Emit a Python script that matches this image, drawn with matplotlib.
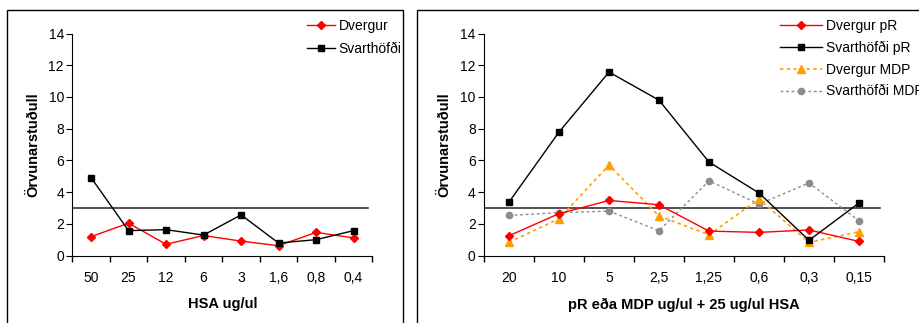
import matplotlib
matplotlib.use('Agg')
import matplotlib.pyplot as plt
from matplotlib.patches import Rectangle

plt.rcParams['font.family'] = ['Liberation Sans', 'DejaVu Sans']

# vinstri mynd
hsa_labels = ['50', '25', '12', '6', '3', '1,6', '0,8', '0,4']
dvergur = [1.2, 2.05, 0.72, 1.27, 0.92, 0.63, 1.47, 1.12]
svarth = [4.92, 1.58, 1.64, 1.3, 2.57, 0.8, 1.01, 1.58]

# haegri mynd
pr_labels = ['20', '10', '5', '2,5', '1,25', '0,6', '0,3', '0,15']
dvergur_pr = [1.26, 2.65, 3.48, 3.21, 1.55, 1.47, 1.62, 0.9]
svarth_pr = [3.38, 7.79, 11.57, 9.8, 5.9, 3.95, 0.97, 3.32]
dvergur_mdp = [0.84, 2.33, 5.71, 2.5, 1.32, 3.57, 0.84, 1.51]
svarth_mdp = [2.54, 2.71, 2.81, 1.57, 4.72, 3.25, 4.58, 2.2]

threshold = 3.0

W, H = 920, 323
fig = plt.figure(figsize=(W / 100, H / 100), dpi=100)

# rammar utan um myndirnar
fig.patches.append(Rectangle((7 / W, -0.1), (403 - 7) / W, (H - 10) / H + 0.1,
                             transform=fig.transFigure, fill=False, lw=1, ec='black'))
fig.patches.append(Rectangle((417 / W, -0.1), 0.6, (H - 10) / H + 0.1,
                             transform=fig.transFigure, fill=False, lw=1, ec='black'))


def setup(ax, labels, xlabel):
    n = len(labels)
    ax.set_xlim(0, n)
    ax.set_ylim(0, 14)
    ax.set_yticks(range(0, 15, 2))
    ax.set_xticks([i + 0.5 for i in range(n)])
    ax.set_xticklabels(labels)
    ax.set_xticks(range(n + 1), minor=True)
    ax.tick_params(axis='x', which='major', length=0, pad=11, labelsize=10)
    ax.tick_params(axis='x', which='minor', length=4, direction='out', width=1)
    ax.tick_params(axis='y', length=4, direction='out', labelsize=10, pad=2)
    for s in ['top', 'right']:
        ax.spines[s].set_visible(False)
    ax.set_xlabel(xlabel, fontsize=10.5, fontweight='bold', labelpad=9)
    ax.set_ylabel('Örvunarstuðull', fontsize=10.5, fontweight='bold', labelpad=6)
    ax.patch.set_alpha(0)


ax1 = fig.add_axes([72.3 / W, 67.3 / H, 300 / W, 222.2 / H])
x = [i + 0.5 for i in range(len(hsa_labels))]
ax1.axhline(threshold, xmin=0, xmax=0.985, color='#333333', lw=1.2)
ax1.plot(x, dvergur, color='red', marker='D', ms=4.5, lw=1, label='Dvergur')
ax1.plot(x, svarth, color='black', marker='s', ms=5, lw=1, label='Svarthöfði')
setup(ax1, hsa_labels, 'HSA ug/ul')
leg1 = ax1.legend(loc='upper left', bbox_to_anchor=(0.74, 1.12), frameon=False,
                  fontsize=10, handlelength=2.0, handletextpad=0.3, labelspacing=0.6)

ax2 = fig.add_axes([484 / W, 67.3 / H, 400 / W, 222.2 / H])
x2 = [i + 0.5 for i in range(len(pr_labels))]
ax2.axhline(threshold, xmin=0, xmax=0.99, color='#333333', lw=1.2)
ax2.plot(x2, svarth_mdp, color='#8c8c8c', marker='o', ms=4.5, lw=1, ls=(0, (2, 2)),
         label='Svarthöfði MDP')
ax2.plot(x2, dvergur_mdp, color='#ffa000', marker='^', ms=5.5, lw=1.2, ls=(0, (2, 2)),
         label='Dvergur MDP')
ax2.plot(x2, dvergur_pr, color='red', marker='D', ms=4.5, lw=1, label='Dvergur pR')
ax2.plot(x2, svarth_pr, color='black', marker='s', ms=5, lw=1, label='Svarthöfði pR')
setup(ax2, pr_labels, 'pR eða MDP ug/ul + 25 ug/ul HSA')
h, l = ax2.get_legend_handles_labels()
order = [2, 3, 1, 0]
ax2.legend([h[i] for i in order], [l[i] for i in order], loc='upper left',
           bbox_to_anchor=(0.71, 1.12), frameon=False, fontsize=10,
           handlelength=3.0, handletextpad=0.3, labelspacing=0.55)

fig.savefig('out.png', dpi=100)
